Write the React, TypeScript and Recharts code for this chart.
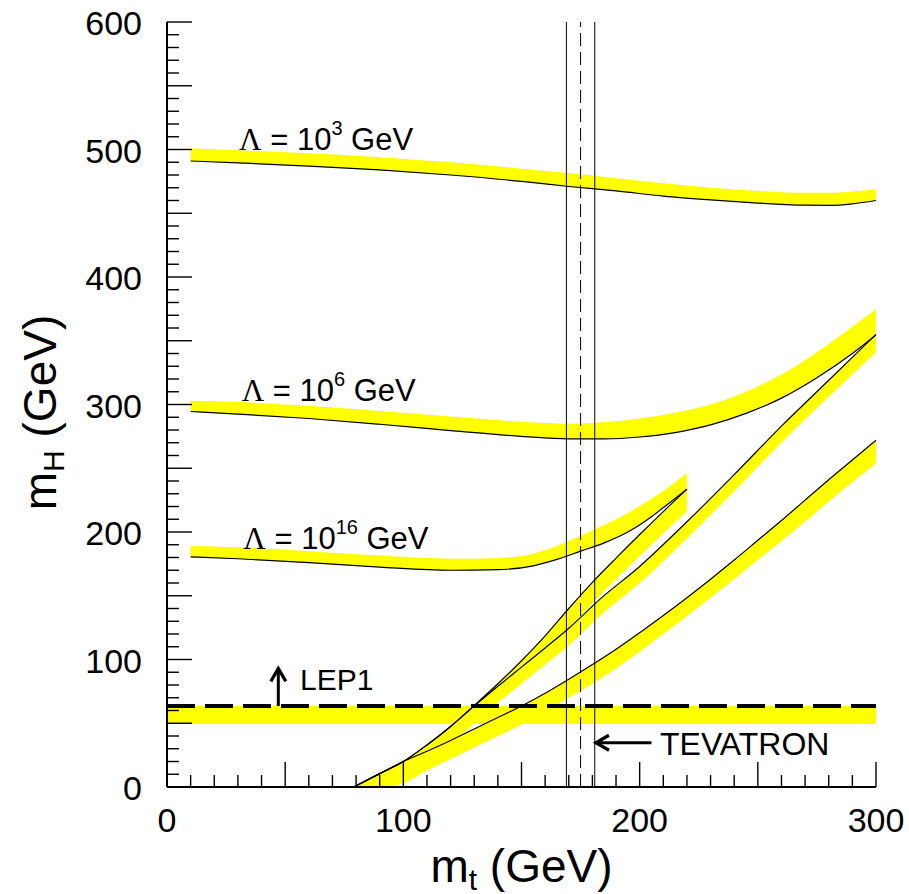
import React from 'react';
import { ComposedChart, Area, Line, XAxis, YAxis, ReferenceLine, ReferenceDot, Label } from 'recharts';

const FONT = '"Liberation Sans", Arial, Helvetica, sans-serif';
const SERIF = '"Liberation Serif", "Times New Roman", serif';
const YELLOW = '#ffff00';

// upper (triviality) bounds, Lambda = 1e3 / 1e6 / 1e16 GeV
const mtL3 = [10, 30, 60, 90, 120, 150, 170, 190, 210, 230, 250, 260, 270, 280, 290, 300];
const mhL3 = [491, 489.5, 487, 484, 480, 475, 471, 467.5, 463.5, 460.5, 458, 457, 456.3, 456.2, 457.4, 460];
const mhL3Top = [501, 499.5, 497, 494, 490, 485, 481.5, 477.5, 473.5, 470, 467.5, 466.5, 466, 466, 467, 469];

const mtL6 = [10, 30, 60, 90, 120, 150, 170, 185, 200, 215, 230, 245, 260, 275, 290, 300];
const mhL6 = [294.5, 292.5, 289, 284.5, 279.5, 275, 273, 273, 274.5, 278, 284, 293, 305, 321, 340, 354.5];
const mhL6Top = [303, 302, 299, 295, 290.5, 286.5, 285, 286, 289, 293.5, 300, 310, 323.5, 341, 361, 375];

const mtL16 = [10, 30, 60, 90, 120, 140, 155, 165, 175, 185, 195, 205, 212, 220];
const mhL16 = [180.5, 179, 176, 172.5, 170, 170.5, 173.5, 178.5, 185, 191.5, 200, 212, 222, 233.5];
const mhL16Top = [189, 188, 185, 181.5, 179, 179.5, 183, 189, 197, 205.5, 215, 226, 235, 246];

// lower (vacuum stability) bounds
const mtA = [79, 90, 100, 110, 120, 130, 140, 150, 160, 170, 181, 190, 200, 210, 220];
const mhA = [0, 10.5, 20, 33, 47.5, 64, 81, 99, 118.5, 140, 162.5, 179.5, 198, 216, 233.5];
const mhALow = [0, 0, 7, 20, 34, 50, 67, 84, 103, 124, 146, 163, 181, 199, 216];

const mtB = [79, 90, 100, 110, 120, 130, 140, 150, 160, 170, 183, 200, 220, 240, 260, 280, 300];
const mhB = [0, 10.5, 20, 33, 47.5, 63.5, 79, 94, 109, 124.5, 147, 173, 208, 245, 283, 319, 355];
const mhBLow = [0, 0, 6, 19, 34, 50, 66, 81, 96, 111, 134, 160, 195, 232, 270, 306, 341];

const mtC = [79, 90, 100, 110, 120, 130, 140, 150, 160, 170, 180, 190, 200, 210, 220, 230, 240, 250, 260, 270, 280, 290, 300];
const mhC = [0, 10.5, 20, 28, 36.5, 45.5, 54.5, 63.5, 73.5, 84.5, 96, 108, 121, 134.5, 148.5, 163, 178, 193.5, 209, 225, 241, 256.5, 272];
const mhCLow = [0, 0, 3, 13, 22, 31, 40, 49, 59, 70, 81, 93, 106, 120, 134, 148.5, 163, 178, 193, 208, 224, 239, 254];

// LEP1 limit band and the top mass window
const mtLep = [0, 300];
const mhLepLow = [49.5, 49.5];
const mhLepHigh = [63.5, 63.5];
const lepLimit = 63.5;
const mtTop = [169, 175, 181];

const xLabels = [0, 100, 200, 300];
const yLabels = [0, 100, 200, 300, 400, 500, 600];
const xTicks = Array.from({ length: 31 }, (_, i) => i * 10);
const yTicks = Array.from({ length: 61 }, (_, i) => i * 10);

const line = (xs: number[], ys: number[]) => xs.map((mt, i) => ({ mt, mh: ys[i] }));
const band = (xs: number[], lo: number[], hi: number[]) => xs.map((mt, i) => ({ mt, range: [lo[i], hi[i]] }));

const bands = [
  band(mtL3, mhL3, mhL3Top),
  band(mtL6, mhL6, mhL6Top),
  band(mtL16, mhL16, mhL16Top),
  band(mtC, mhCLow, mhC),
  band(mtB, mhBLow, mhB),
  band(mtA, mhALow, mhA),
  band(mtLep, mhLepLow, mhLepHigh),
];
const curves = [
  line(mtL3, mhL3),
  line(mtL6, mhL6),
  line(mtL16, mhL16),
  line(mtA, mhA),
  line(mtB, mhB),
  line(mtC, mhC),
];

const tickLen = (v: number) => (v % 50 === 0 ? 25 : 12);
const TICK = { stroke: '#000', strokeWidth: 1.4 };

const BottomTick = (p: any) => {
  const v = p.payload.value;
  return (
    <g>
      <line x1={p.x} y1={p.y} x2={p.x} y2={p.y - tickLen(v)} {...TICK} />
      {xLabels.includes(v) && (
        <text x={p.x} y={p.y + 45} textAnchor="middle" fontSize={34} fontFamily={FONT} fill="#000">{v}</text>
      )}
    </g>
  );
};
const TopTick = (p: any) => (
  <line x1={p.x} y1={p.y} x2={p.x} y2={p.y + tickLen(p.payload.value)} {...TICK} />
);
const LeftTick = (p: any) => {
  const v = p.payload.value;
  return (
    <g>
      <line x1={p.x} y1={p.y} x2={p.x + tickLen(v)} y2={p.y} {...TICK} />
      {yLabels.includes(v) && (
        <text x={p.x - 25} y={p.y + 13} textAnchor="end" fontSize={34} fontFamily={FONT} fill="#000">{v}</text>
      )}
    </g>
  );
};
const RightTick = (p: any) => (
  <line x1={p.x} y1={p.y} x2={p.x - tickLen(p.payload.value)} y2={p.y} {...TICK} />
);

const Arrow = (p: any) => {
  const { x1, y1, x2, y2 } = p;
  const ang = Math.atan2(y2 - y1, x2 - x1);
  const L = 15;
  const a = Math.PI / 6;
  const h1 = `${x2 - L * Math.cos(ang - a)},${y2 - L * Math.sin(ang - a)}`;
  const h2 = `${x2 - L * Math.cos(ang + a)},${y2 - L * Math.sin(ang + a)}`;
  return (
    <g>
      <line x1={x1} y1={y1} x2={x2} y2={y2} stroke="#000" strokeWidth={3} />
      <polyline points={`${h1} ${x2},${y2} ${h2}`} fill="none" stroke="#000" strokeWidth={3.2} />
    </g>
  );
};

const lambdaLabel = (exp: string) => (p: any) => (
  <text x={p.cx} y={p.cy} fontSize={31} fontFamily={FONT} fill="#000">
    <tspan fontFamily={SERIF}>Λ</tspan>
    <tspan>{' = 10'}</tspan>
    <tspan dy={-15} fontSize={20}>{exp}</tspan>
    <tspan dy={15}>{' GeV'}</tspan>
  </text>
);

const plainLabel = (txt: string, size: number) => (p: any) => (
  <text x={p.cx} y={p.cy} fontSize={size} fontFamily={FONT} fill="#000">{txt}</text>
);

const XTitle = (props: any) => {
  const vb = props.viewBox;
  return (
    <text x={vb.x + vb.width / 2} y={vb.y + 94.5} textAnchor="middle" fontSize={46} fontFamily={FONT} fill="#000">
      m<tspan dy={8} fontSize={30}>t</tspan><tspan dy={-8}>{' (GeV)'}</tspan>
    </text>
  );
};
const YTitle = () => {
  const cx = 55.5;
  const cy = 412.5;
  return (
    <text x={cx} y={cy} transform={`rotate(-90 ${cx} ${cy})`} textAnchor="middle" fontSize={46} fontFamily={FONT} fill="#000">
      m<tspan dy={8} fontSize={30}>H</tspan><tspan dy={-8}>{' (GeV)'}</tspan>
    </text>
  );
};

const AXIS = { stroke: '#000', strokeWidth: 2 };

export default function App() {
  return (
    <div style={{ width: 909, height: 894 }}>
      <style>{'body{margin:0;overflow:hidden}'}</style>
      <ComposedChart width={909} height={894} margin={{ top: 22, right: 33, bottom: 0, left: 0 }}>
        <XAxis dataKey="mt" type="number" domain={[0, 300]} ticks={xTicks} interval={0}
          tick={BottomTick} tickLine={false} tickSize={0} tickMargin={0} axisLine={AXIS} height={107}>
          <Label content={XTitle} />
        </XAxis>
        <XAxis xAxisId="top" orientation="top" type="number" domain={[0, 300]} ticks={xTicks} interval={0}
          tick={TopTick} tickLine={false} tickSize={0} tickMargin={0} axisLine={AXIS} height={0} />
        <YAxis type="number" domain={[0, 600]} ticks={yTicks} interval={0}
          tick={LeftTick} tickLine={false} tickSize={0} tickMargin={0} axisLine={AXIS} width={167}>
          <Label content={YTitle} />
        </YAxis>
        <YAxis yAxisId="right" orientation="right" type="number" domain={[0, 600]} ticks={yTicks} interval={0}
          tick={RightTick} tickLine={false} tickSize={0} tickMargin={0} axisLine={AXIS} width={0} />

        {bands.map((d, i) => (
          <Area key={`b${i}`} data={d} dataKey="range" type="monotone" fill={YELLOW} fillOpacity={1}
            stroke="none" dot={false} activeDot={false} isAnimationActive={false} />
        ))}
        {curves.map((d, i) => (
          <Line key={`l${i}`} data={d} dataKey="mh" type="monotone" stroke="#000" strokeWidth={1.2}
            dot={false} activeDot={false} isAnimationActive={false} />
        ))}

        <ReferenceLine y={lepLimit} stroke="#000" strokeWidth={4} strokeDasharray="28 10" />
        <ReferenceLine x={mtTop[0]} stroke="#000" strokeWidth={1} />
        <ReferenceLine x={mtTop[1]} stroke="#000" strokeWidth={1} strokeDasharray="13 6" />
        <ReferenceLine x={mtTop[2]} stroke="#000" strokeWidth={1} />

        <ReferenceLine segment={[{ x: 47.1, y: lepLimit }, { x: 47.1, y: 93 }]} shape={Arrow} />
        <ReferenceLine segment={[{ x: 205, y: 34.7 }, { x: 181.5, y: 34.7 }]} shape={Arrow} />

        <ReferenceDot x={30.5} y={499.6} r={0} shape={lambdaLabel('3')} />
        <ReferenceDot x={31.6} y={303} r={0} shape={lambdaLabel('6')} />
        <ReferenceDot x={32.3} y={186.7} r={0} shape={lambdaLabel('16')} />
        <ReferenceDot x={56.3} y={76} r={0} shape={plainLabel('LEP1', 30)} />
        <ReferenceDot x={208.6} y={25} r={0} shape={plainLabel('TEVATRON', 32)} />
      </ComposedChart>
    </div>
  );
}
